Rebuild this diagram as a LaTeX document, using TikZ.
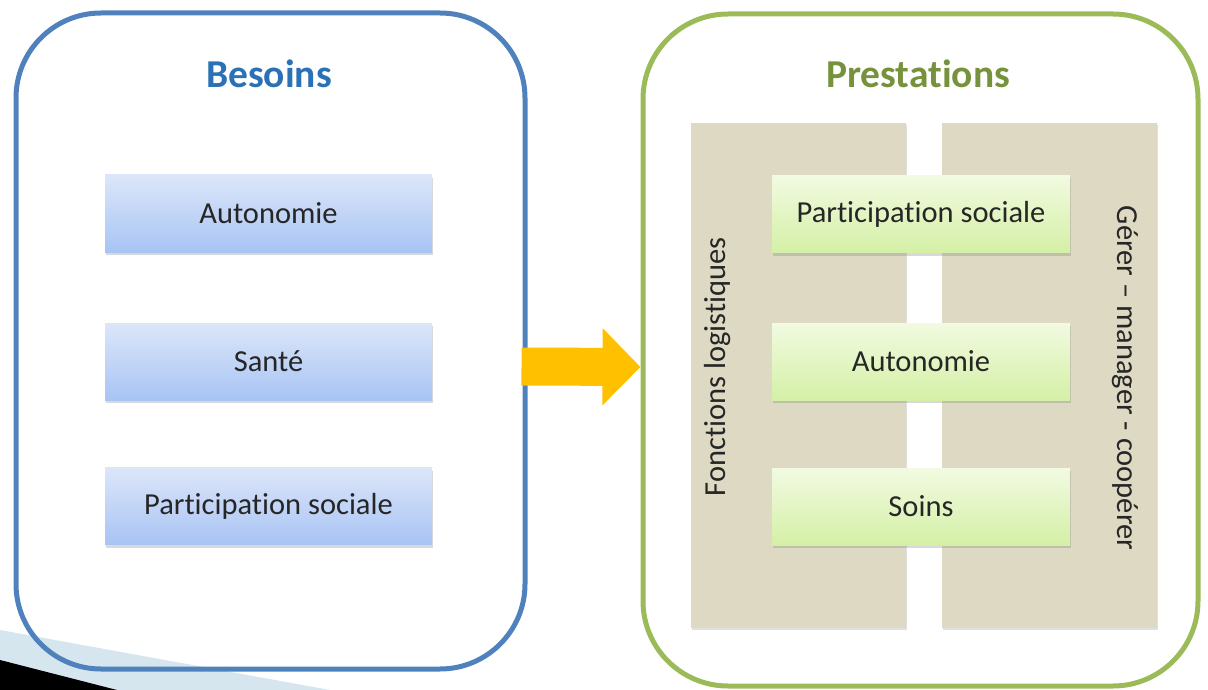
\documentclass[tikz,border=0pt]{standalone}
\usepackage{fontspec}
\setmainfont{Carlito}[Ligatures=NoCommon]
\usetikzlibrary{arrows.meta,shadows}
\definecolor{bleuB}{HTML}{4F81BD}
\definecolor{vertB}{HTML}{9BBB59}
\definecolor{titreB}{HTML}{2A72B5}
\definecolor{titreP}{HTML}{76923C}
\definecolor{grisP}{HTML}{DDD9C3}
\definecolor{orangeF}{HTML}{FFC000}
\definecolor{coin}{HTML}{D5E6EE}
\definecolor{bleuH}{HTML}{DCE6F9}
\definecolor{bleuBas}{HTML}{A8C4F4}
\definecolor{vertH}{HTML}{F2FAE1}
\definecolor{vertBas}{HTML}{D4F0A6}
\newcommand{\corps}{\fontsize{30.5}{36}\selectfont}
\newcommand{\titre}{\fontsize{39.5}{44}\selectfont\bfseries}

\begin{document}
\begin{tikzpicture}[x=1pt,y=-1pt,
  cadre/.style={draw,line width=5pt,rounded corners=85pt,inner sep=0pt},
  besoin/.style={top color=bleuH,bottom color=bleuBas,
    minimum width=327pt,minimum height=77pt,inner sep=0pt,text=black!85,font=\corps,
    drop shadow={shadow xshift=1pt,shadow yshift=-3pt,opacity=0.3}},
  prest/.style={besoin,top color=vertH,bottom color=vertBas,minimum width=298pt},
  colonne/.style={fill=grisP,minimum width=215pt,minimum height=505pt,inner sep=0pt,
    drop shadow={shadow xshift=1pt,shadow yshift=-2pt,opacity=0.25}}]

\useasboundingbox (0,0) rectangle (1208,690);

% coin du modele
\fill[coin] (0,630) -- (330,690) -- (0,690) -- cycle;
\fill[black] (0,660) -- (117,690) -- (0,690) -- cycle;

\node[cadre,draw=bleuB,minimum width=509pt,minimum height=656pt] (L) at (270.5,341) {};
\node[cadre,draw=vertB,minimum width=555pt,minimum height=672pt] (R) at (920.5,350) {};

\node[text=titreB,font=\titre] (tL) at (269,74) {Besoins};
\node[text=titreP,font=\titre] (tR) at (918,74) {Prestations};

\node[besoin] (b1) at (268.5,213.5) {Autonomie};
\node[besoin] (b2) at (268.5,361.5) {Santé};
\node[besoin] (b3) at (268.5,506) {Participation sociale};

\node[colonne] (c1) at (798.5,375.5) {};
\node[colonne] (c2) at (1049.5,375.5) {};
\node[rotate=90,font=\corps,text=black!85] (f1) at (718,367) {Fonctions logistiques};
\node[rotate=-90,font=\corps,text=black!85] (f2) at (1125,378) {Gérer – manager - coopérer};

\node[prest] (p1) at (921,214) {Participation sociale};
\node[prest] (p2) at (921,361.5) {Autonomie};
\node[prest] (p3) at (921,506.5) {Soins};

\draw[orangeF,line width=38pt,-{Triangle[length=38pt,width=75pt]}]
	(L.east |- b2) ++(-6,5) -- (R.west |- 0,367);

\end{tikzpicture}
\end{document}
